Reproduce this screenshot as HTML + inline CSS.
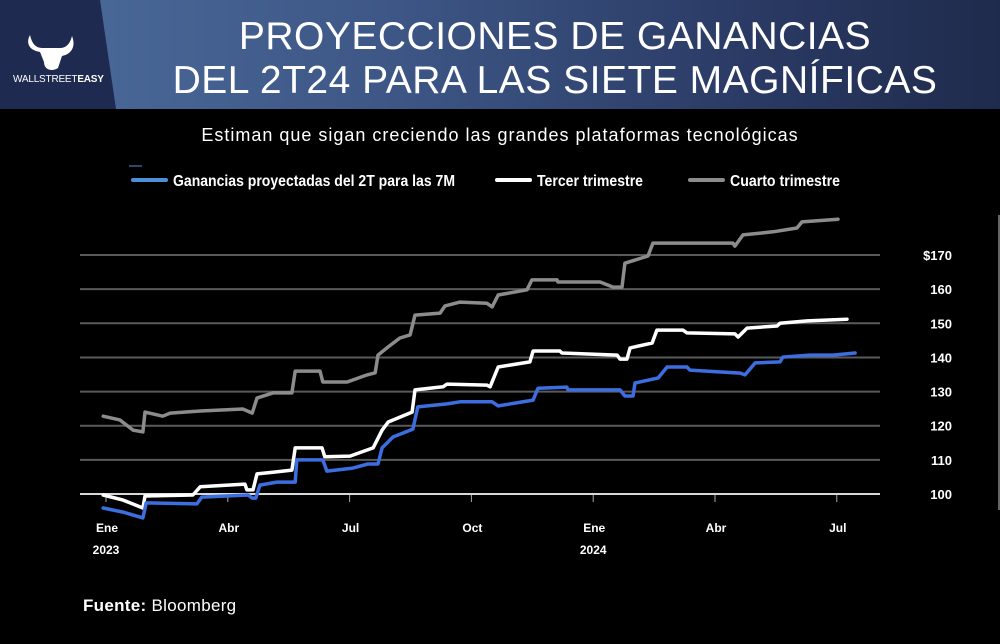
<!DOCTYPE html>
<html><head><meta charset="utf-8">
<style>
html,body{margin:0;padding:0;background:#000;}
#wrap{position:relative;width:1000px;height:644px;overflow:hidden;background:#000;font-family:"Liberation Sans",sans-serif;color:#fff;}
.t{position:absolute;white-space:nowrap;}
</style></head>
<body>
<div id="wrap">
<div style="position:absolute;left:0;top:0;width:1000px;height:109px;background:linear-gradient(90deg,#4c6c9c 0%,#3d5685 40%,#2a3a64 75%,#1f2b4c 100%);"></div>
<svg width="1000" height="110" style="position:absolute;left:0;top:0">
<polygon points="0,0 100,0 116,109 0,109" fill="#1f2a50"/>
<path d="M30,35 C26,42 28,50 40,52 L44,62 C44,70 52,72 58,68 L62,56 C72,54 76,46 72,36 C70,44 66,48 60,48 L42,48 C36,48 32,44 30,35Z" fill="#fff"/>
</svg>
<div class="t" style="left:13px;top:74px;font-size:10px;letter-spacing:-0.2px;">WALLSTREET<b>EASY</b></div>
<div class="t" style="left:130px;top:15px;width:850px;text-align:center;font-size:39px;line-height:44px;font-weight:normal;letter-spacing:0.5px;">PROYECCIONES DE GANANCIAS<br>DEL 2T24 PARA LAS SIETE MAGNÍFICAS</div>
<div class="t" style="left:0;width:1000px;text-align:center;top:125px;font-size:18px;letter-spacing:1px;">Estiman que sigan creciendo las grandes plataformas tecnológicas</div>
<svg id="chart" width="1000" height="644" style="position:absolute;left:0;top:0"></svg>
<div class="t" style="left:83px;top:596px;font-size:17px;letter-spacing:0.3px;"><b>Fuente:</b> Bloomberg</div>
</div>
<script>
const yTicks=[100,110,120,130,140,150,160,170];
const yTickLabels=['100','110','120','130','140','150','160','$170'];
const xTickMonths=[0,3,6,9,12,15,18];
const xTickLabels=['Ene','Abr','Jul','Oct','Ene','Abr','Jul'];
const yearLabels=['2023','2024'];
const yearMonths=[0,12];
const seriesNames=['Ganancias proyectadas del 2T para las 7M','Tercer trimestre','Cuarto trimestre'];
const q4Months=[-0.07,0.34,0.67,0.91,0.96,1.40,1.58,2.32,3.37,3.60,3.72,4.11,4.58,4.66,5.27,5.34,5.94,6.43,6.63,6.70,6.95,7.24,7.49,7.61,8.23,8.35,8.72,9.38,9.51,9.66,10.37,10.49,11.11,11.13,12.17,12.49,12.71,12.78,13.35,13.47,15.44,15.49,15.69,16.43,17.02,17.14,18.03];
const q4Values=[122.8,121.7,118.7,118.2,124.0,122.8,123.7,124.3,124.9,123.7,128.1,129.6,129.6,136.0,136.0,132.8,132.8,134.9,135.5,140.7,143.1,145.7,146.6,152.4,153.0,155.1,156.2,155.9,154.8,158.3,159.8,162.7,162.7,162.1,162.1,160.6,160.6,167.6,169.7,173.5,173.5,172.6,175.9,176.8,177.9,179.7,180.5];
const q3Months=[-0.07,0.42,0.91,0.96,2.14,2.32,3.42,3.47,3.62,3.72,4.11,4.58,4.66,5.32,5.39,6.01,6.58,6.80,6.95,7.54,7.61,8.30,8.40,9.38,9.46,9.66,10.44,10.52,11.18,11.23,12.59,12.66,12.83,12.91,13.45,13.57,14.21,14.31,15.49,15.57,15.79,16.53,16.60,17.27,18.25];
const q3Values=[99.7,98.2,95.9,99.4,99.7,102.1,102.9,101.2,101.2,105.9,106.4,107.0,113.5,113.5,110.9,111.1,113.5,118.7,121.1,124.0,130.5,131.4,132.2,131.9,131.4,137.2,138.7,141.9,141.9,141.3,140.7,139.5,139.5,142.8,144.2,148.0,148.0,147.2,146.9,146.0,148.6,149.2,150.0,150.7,151.2];
const q2Months=[-0.07,0.42,0.91,0.99,2.24,2.36,3.50,3.60,3.69,3.79,4.21,4.66,4.70,5.34,5.44,6.08,6.45,6.70,6.80,7.07,7.56,7.68,8.40,8.72,9.51,9.66,10.52,10.64,11.35,11.38,12.66,12.78,12.98,13.03,13.60,13.82,14.31,14.38,15.62,15.74,15.99,16.60,16.67,17.34,17.91,18.45];
const q2Values=[95.9,94.7,93.0,97.4,97.1,99.1,99.7,98.8,98.8,102.6,103.5,103.5,110.0,110.0,106.7,107.6,108.8,108.8,113.5,116.7,119.0,125.5,126.4,127.0,127.0,125.8,127.5,131.0,131.3,130.5,130.5,128.7,128.7,132.5,134.0,137.2,137.2,136.3,135.4,134.9,138.4,138.7,140.1,140.7,140.7,141.3];

const NS='http://www.w3.org/2000/svg';
const svg=document.getElementById('chart');
function X(m){return 106+m*40.6;}
function Y(v){return 494-(v-100)*3.414;}
function mk(tag,attrs){const e=document.createElementNS(NS,tag);for(const k in attrs)e.setAttribute(k,attrs[k]);svg.appendChild(e);return e;}

yTicks.forEach((v,i)=>{
  const l=mk('line',{x1:80,x2:880,y1:Y(v),y2:Y(v),stroke:v===100?'#d8d8d8':'#5a5a5a','stroke-width':2});
  
  
  const t=mk('text',{x:952,y:Y(v)+5,'text-anchor':'end',fill:'#fff','font-size':13,'font-weight':'bold','font-family':'Liberation Sans, sans-serif'});
  t.textContent=yTickLabels[i];
  
  
});
xTickMonths.forEach((m,i)=>{
  const tk=mk('line',{x1:X(m),x2:X(m),y1:495,y2:502,stroke:'#aaa','stroke-width':1});
  
  
  const t=mk('text',{x:X(m)+1,y:532,'text-anchor':'middle',fill:'#fff','font-size':12,'font-weight':'bold','font-family':'Liberation Sans, sans-serif'});
  t.textContent=xTickLabels[i];
  
  
});
yearMonths.forEach((m,i)=>{
  const t=mk('text',{x:X(m),y:554,'text-anchor':'middle',fill:'#fff','font-size':12,'font-weight':'bold','font-family':'Liberation Sans, sans-serif'});
  t.textContent=yearLabels[i];
  
  
});
const vl=mk('line',{x1:999,x2:999,y1:215,y2:510,stroke:'#ccc','stroke-width':1});



function series(ms,vs,color,name){
  const pts=ms.map((m,i)=>X(m).toFixed(1)+','+Y(vs[i]).toFixed(1)).join(' ');
  const p=mk('polyline',{points:pts,fill:'none',stroke:color,'stroke-width':3.5,'stroke-linejoin':'round','stroke-linecap':'round'});
  
  
}
series(q4Months,q4Values,'#8c8c8c','series-cuarto-trimestre');
series(q3Months,q3Values,'#ffffff','series-tercer-trimestre');
series(q2Months,q2Values,'#3d6ee0','series-segundo-trimestre');

const legendX=[133,497,690];
const legendColors=['#4a8fd8','#ffffff','#8c8c8c'];
seriesNames.forEach((n,i)=>{
  const l=mk('line',{x1:legendX[i],x2:legendX[i]+33,y1:180,y2:180,stroke:legendColors[i],'stroke-width':4,'stroke-linecap':'round'});
  
  
  const t=mk('text',{x:legendX[i]+40,y:186,fill:'#fff','font-size':16,'font-weight':'bold','font-family':'Liberation Sans, sans-serif',textLength:[282,106,110][i],lengthAdjust:'spacingAndGlyphs'});
  t.textContent=n;
  
  
});
const sm=mk('line',{x1:129,x2:142,y1:166,y2:166,stroke:'#334466','stroke-width':2});


</script>
</body></html>
